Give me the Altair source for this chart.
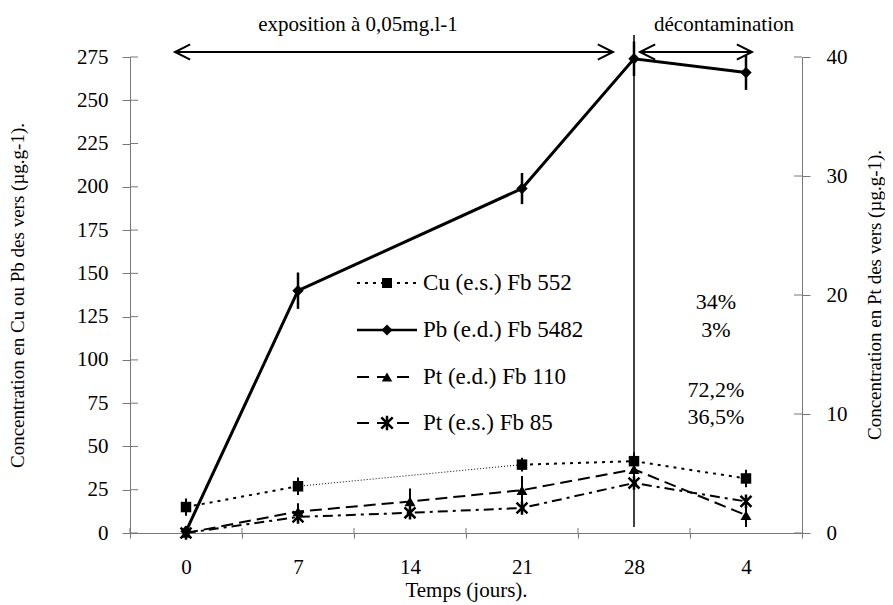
import altair as alt
import pandas as pd

# ---------------- data ----------------
days = ["0", "7", "14", "21", "28", "4"]
cu_val = [15.0, 27.0, None, 39.5, 41.5, 31.5]
cu_err = [5.0, 5.0, None, 4.0, 5.0, 5.0]
pb_val = [1.0, 140.0, None, 199.0, 274.0, 266.0]
pb_err = [0.0, 10.5, None, 9.0, 10.0, 10.0]
pted_val = [0.0, 1.8, 2.65, 3.6, 5.35, 1.5]
pted_err = [0.15, 0.7, 1.1, 1.2, 0.8, 1.0]
ptes_val = [0.0, 1.35, 1.7, 2.1, 4.2, 2.65]
ptes_err = [0.1, 0.45, 0.4, 0.4, 0.5, 0.4]

left_ticks = list(range(0, 276, 25))
right_ticks = [0, 10, 20, 30, 40]
legend_labels = ["Cu (e.s.) Fb 552", "Pb (e.d.) Fb 5482", "Pt (e.d.) Fb 110", "Pt (e.s.) Fb 85"]
pct_labels = ["34%", "3%", "72,2%", "36,5%"]
top_labels = ["exposition à 0,05mg.l-1", "décontamination"]
left_title = "Concentration en Cu ou Pb des vers (µg.g-1)."
right_title = "Concentration en Pt des vers (µg.g-1)."
x_title = "Temps (jours)."

FONT = "Liberation Serif"
W, H = 672, 476
AX = "#777777"

STAR = "M -1 -1 L 1 1 M -1 1 L 1 -1 M 0 -1.25 L 0 1.25"
CHEV_L = "M 2 -1 L 0 0 L 2 1"
CHEV_R = "M -2 -1 L 0 0 L -2 1"


def series_df(vals, errs):
    rows = []
    for i, (t, v, e) in enumerate(zip(days, vals, errs)):
        if v is None:
            continue
        rows.append(dict(i=i, t=t, v=v, lo=v - e, hi=v + e))
    return pd.DataFrame(rows)


xscale = alt.Scale(type="band", domain=days, paddingInner=0, paddingOuter=0)
lscale = alt.Scale(domain=[0, 275], nice=False, zero=True)
rscale = alt.Scale(domain=[0, 40], nice=False, zero=True)

x_axis = alt.Axis(
    title=x_title, tickBand="extent", labelAngle=0, grid=False,
    domainColor=AX, tickColor=AX, tickSize=5, labelPadding=18,
    labelFont=FONT, labelFontSize=21, labelColor="black",
    titleFont=FONT, titleFontSize=21, titleFontWeight="normal", titleColor="black",
    titlePadding=2,
)
l_axis = alt.Axis(
    title=left_title, values=left_ticks, grid=False,
    domainColor=AX, tickColor=AX, tickSize=8, labelPadding=14,
    labelFont=FONT, labelFontSize=21, labelColor="black",
    titleFont=FONT, titleFontSize=19, titleFontWeight="normal", titleColor="black",
    titlePadding=49,
)
r_axis = alt.Axis(
    orient="right", title=None, values=right_ticks, grid=False,
    domainColor=AX, tickColor=AX, tickSize=8, labelPadding=16,
    labelFont=FONT, labelFontSize=21, labelColor="black",
)


def xenc(band=0.5, field="t"):
    return alt.X(f"{field}:N", scale=xscale, axis=x_axis, bandPosition=band)


def yl(field="v"):
    return alt.Y(f"{field}:Q", scale=lscale, axis=l_axis)


def yr(field="v"):
    return alt.Y(f"{field}:Q", scale=rscale, axis=r_axis)


cu_df = series_df(cu_val, cu_err)
cu_df["seg"] = ["a" if i <= 1 else "b" for i in cu_df["i"]]
cu_thin_df = cu_df[cu_df["t"].isin(["7", "21"])]
pb_df = series_df(pb_val, pb_err)
pted_df = series_df(pted_val, pted_err)
ptes_df = series_df(ptes_val, ptes_err)

# ---------------- left group ----------------
left_layers = []
left_layers.append(
    alt.Chart(cu_df).mark_line(color="black", strokeWidth=2, strokeDash=[3, 5]).encode(
        x=xenc(), y=yl(), detail="seg:N", order="i:Q")
)
left_layers.append(
    alt.Chart(cu_thin_df).mark_line(color="black", strokeWidth=1, strokeDash=[1, 2]).encode(
        x=xenc(), y=yl(), order="i:Q")
)
left_layers.append(
    alt.Chart(cu_df).mark_rule(color="black", strokeWidth=2).encode(
        x=xenc(), y=yl("lo"), y2="hi:Q")
)
left_layers.append(
    alt.Chart(cu_df).mark_point(shape="square", filled=True, size=110, color="black", opacity=1).encode(
        x=xenc(), y=yl())
)
left_layers.append(
    alt.Chart(pb_df).mark_line(color="black", strokeWidth=3).encode(
        x=xenc(), y=yl(), order="i:Q")
)
left_layers.append(
    alt.Chart(pb_df).mark_rule(color="black", strokeWidth=2.5).encode(
        x=xenc(), y=yl("lo"), y2="hi:Q")
)
left_layers.append(
    alt.Chart(pb_df).mark_point(shape="diamond", filled=True, size=130, color="black", opacity=1).encode(
        x=xenc(), y=yl())
)
# inner halves of the crossing ticks
left_layers.append(
    alt.Chart(pd.DataFrame({"v": left_ticks})).mark_rule(color=AX).encode(
        y=yl(), x=alt.value(0), x2=alt.value(8))
)
left_layers.append(
    alt.Chart(pd.DataFrame({"t": days})).mark_rule(color=AX).encode(
        x=xenc(band=0), y=alt.value(H - 5), y2=alt.value(H))
)
# vertical separator at day 28
left_layers.append(
    alt.Chart(pd.DataFrame({"t": ["28"]})).mark_rule(color="black", strokeWidth=1.5).encode(
        x=xenc(), y=alt.value(-22), y2=alt.value(H - 6))
)
# arrows
arrows = [("0", "28", -11, -21), ("28", "4", 6, 6)]
for a, b, oa, ob in arrows:
    adf = pd.DataFrame({"t": [a], "t2": [b]})
    left_layers.append(
        alt.Chart(adf).mark_rule(color="black", strokeWidth=1.8, xOffset=oa, x2Offset=ob).encode(
            x=xenc(), x2=alt.X2("t2:N", bandPosition=0.5), y=alt.value(-5))
    )
    left_layers.append(
        alt.Chart(adf).mark_point(shape=CHEV_L, size=230, filled=False, color="black",
                                  strokeWidth=2, opacity=1, xOffset=oa).encode(
            x=xenc(), y=alt.value(-5))
    )
    left_layers.append(
        alt.Chart(adf).mark_point(shape=CHEV_R, size=230, filled=False, color="black",
                                  strokeWidth=2, opacity=1, xOffset=ob).encode(
            x=xenc(field="t2"), y=alt.value(-5))
    )
# top annotations
for txt, px in zip(top_labels, [228, 594]):
    left_layers.append(
        alt.Chart(pd.DataFrame({"s": [txt]})).mark_text(
            font=FONT, fontSize=21, color="black", align="center", baseline="middle").encode(
            text="s:N", x=alt.value(px), y=alt.value(-32))
    )
# percentages
for txt, py in zip(pct_labels, [245, 273, 333, 360]):
    left_layers.append(
        alt.Chart(pd.DataFrame({"s": [txt]})).mark_text(
            font=FONT, fontSize=22, color="black", align="center", baseline="middle").encode(
            text="s:N", x=alt.value(586), y=alt.value(py))
    )

# legend (manual, line + marker + label)
leg_rows = [226, 273, 320, 366]
leg_styles = [
    dict(dash=[3, 5], width=2, shape="square", size=100, filled=True),
    dict(dash=None, width=2.5, shape="diamond", size=120, filled=True),
    dict(dash=[12, 8], width=2, shape="triangle-up", size=110, filled=True),
    dict(dash=[12, 8], width=2, shape=STAR, size=130, filled=False),
]
for lab, py, st in zip(legend_labels, leg_rows, leg_styles):
    ldf = pd.DataFrame({"s": [lab]})
    rule_kw = dict(color="black", strokeWidth=st["width"])
    if st["dash"]:
        rule_kw["strokeDash"] = st["dash"]
    left_layers.append(
        alt.Chart(ldf).mark_rule(**rule_kw).encode(
            x=alt.value(227), x2=alt.value(287), y=alt.value(py))
    )
    pt_kw = dict(shape=st["shape"], size=st["size"], filled=st["filled"], color="black", opacity=1)
    if not st["filled"]:
        pt_kw["strokeWidth"] = 2.5
    left_layers.append(
        alt.Chart(ldf).mark_point(**pt_kw).encode(x=alt.value(257), y=alt.value(py))
    )
    left_layers.append(
        alt.Chart(ldf).mark_text(font=FONT, fontSize=23, color="black", align="left",
                                 baseline="middle").encode(
            text="s:N", x=alt.value(293), y=alt.value(py))
    )

left = alt.layer(*left_layers)

# ---------------- right group (Pt) ----------------
right_layers = []
right_layers.append(
    alt.Chart(pted_df).mark_line(color="black", strokeWidth=2, strokeDash=[12, 6]).encode(
        x=xenc(), y=yr(), order="i:Q")
)
right_layers.append(
    alt.Chart(pted_df).mark_rule(color="black", strokeWidth=2).encode(
        x=xenc(), y=yr("lo"), y2="hi:Q")
)
right_layers.append(
    alt.Chart(pted_df).mark_point(shape="triangle-up", filled=True, size=120, color="black", opacity=1).encode(
        x=xenc(), y=yr())
)
right_layers.append(
    alt.Chart(ptes_df).mark_line(color="black", strokeWidth=2, strokeDash=[10, 5, 3, 5]).encode(
        x=xenc(), y=yr(), order="i:Q")
)
right_layers.append(
    alt.Chart(ptes_df).mark_rule(color="black", strokeWidth=2).encode(
        x=xenc(), y=yr("lo"), y2="hi:Q")
)
right_layers.append(
    alt.Chart(ptes_df).mark_point(shape=STAR, filled=False, size=120, color="black",
                                  strokeWidth=2.5, opacity=1).encode(
        x=xenc(), y=yr())
)
right_layers.append(
    alt.Chart(pd.DataFrame({"v": right_ticks})).mark_rule(color=AX).encode(
        y=yr(), x=alt.value(W - 8), x2=alt.value(W))
)
right_layers.append(
    alt.Chart(pd.DataFrame({"s": [right_title]})).mark_text(
        font=FONT, fontSize=19, color="black", align="center", baseline="middle", angle=270).encode(
        text="s:N", x=alt.value(745), y=alt.value(H / 2))
)
right = alt.layer(*right_layers)

chart = (
    alt.layer(left, right)
    .resolve_scale(y="independent")
    .properties(
        width=W, height=H,
        padding={"left": 122, "top": 49, "right": 83, "bottom": 72},
        autosize=alt.AutoSizeParams(type="none"),
        background="white",
    )
    .configure_view(stroke=None)
)

chart.save("out.html", embed_options={"renderer": "svg", "actions": False})
